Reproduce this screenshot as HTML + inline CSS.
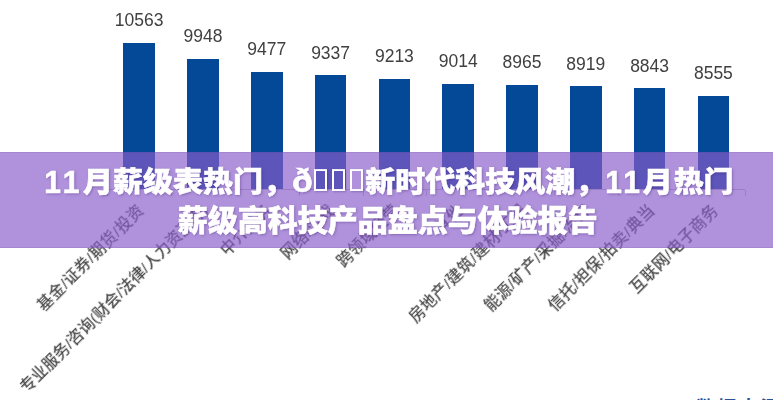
<!DOCTYPE html>
<html lang="zh-CN"><head><meta charset="utf-8"><title>11月薪级表热门</title>
<style>
html,body{margin:0;padding:0}
body{width:773px;height:400px;overflow:hidden;background:#fff;position:relative;font-family:"Liberation Sans","Noto Sans CJK SC",sans-serif}
.b{position:absolute;width:31.5px;background:rgb(4,72,152)}
.v{position:absolute;width:80px;text-align:center;font:17.5px/17px "Liberation Sans",sans-serif;color:#404040;filter:blur(0.3px)}
.ax{position:absolute;left:107.3px;width:638.0px;top:189.0px;height:1px;background:#bfbfbf}
.t{position:absolute;top:189.5px;width:1px;height:6px;background:#bfbfbf}
.l{position:absolute;top:201.5px;white-space:nowrap;font:500 15.5px/16px "Liberation Sans","Noto Sans CJK SC",sans-serif;letter-spacing:0.5px;color:#4a4a4a;filter:blur(0.6px);transform-origin:100% 0;transform:rotate(-45deg)}
.src{position:absolute;left:696px;top:397px;font:bold 19px/24px "Liberation Sans","Noto Sans CJK SC",sans-serif;color:#2a5298;letter-spacing:2.5px;white-space:nowrap}
.ov{position:absolute;left:0;top:152px;width:773px;height:96px;background:rgba(137,92,203,0.67);box-shadow:inset 0 1px 0 rgba(60,40,90,.1),inset 0 -1px 0 rgba(60,40,90,.1)}
.ti{position:absolute;left:0;top:152px;width:773px;height:96px;color:#fff;font-weight:900;font-size:30px;line-height:38px;font-family:"Liberation Sans","Noto Sans CJK SC",sans-serif;text-shadow:1px 1px 3px rgba(40,0,90,.35);-webkit-text-stroke:0.6px #fff;filter:blur(0.25px)}
.ti p{margin:0;white-space:nowrap;position:absolute;transform-origin:0 17.5px;transform:translateY(-0.5px) scaleY(0.95)}
.d{display:inline-block;transform:translateY(1.5px) scaleY(1.1);transform-origin:50% 97%}
.lt{font-size:34px;line-height:0;margin-left:-1px;margin-right:1px}
.bx{display:inline-block;box-sizing:border-box;width:13px;height:23px;border:2px solid #fff;margin:0 5px 0 0;vertical-align:3px;font-size:0;box-shadow:1px 1px 2px rgba(40,0,90,.25)}
</style></head><body>
<div class="b" style="left:123.4px;top:42.9px;height:146.6px"></div><div class="v" style="left:99.2px;top:12.2px">10563</div><div class="b" style="left:187.2px;top:59.1px;height:130.4px"></div><div class="v" style="left:163.0px;top:28.4px">9948</div><div class="b" style="left:251.0px;top:71.6px;height:117.9px"></div><div class="v" style="left:226.8px;top:40.9px">9477</div><div class="b" style="left:314.8px;top:75.3px;height:114.2px"></div><div class="v" style="left:290.6px;top:44.6px">9337</div><div class="b" style="left:378.6px;top:78.6px;height:110.9px"></div><div class="v" style="left:354.4px;top:47.9px">9213</div><div class="b" style="left:442.4px;top:83.8px;height:105.7px"></div><div class="v" style="left:418.2px;top:53.1px">9014</div><div class="b" style="left:506.2px;top:85.1px;height:104.4px"></div><div class="v" style="left:482.0px;top:54.4px">8965</div><div class="b" style="left:570.0px;top:86.3px;height:103.2px"></div><div class="v" style="left:545.8px;top:55.6px">8919</div><div class="b" style="left:633.8px;top:88.4px;height:101.1px"></div><div class="v" style="left:609.6px;top:57.7px">8843</div><div class="b" style="left:697.6px;top:96.0px;height:93.5px"></div><div class="v" style="left:673.4px;top:65.3px">8555</div>
<div class="ax"></div>
<div class="t" style="left:107.3px"></div><div class="t" style="left:171.1px"></div><div class="t" style="left:234.9px"></div><div class="t" style="left:298.7px"></div><div class="t" style="left:362.5px"></div><div class="t" style="left:426.3px"></div><div class="t" style="left:490.1px"></div><div class="t" style="left:553.9px"></div><div class="t" style="left:617.7px"></div><div class="t" style="left:681.5px"></div><div class="t" style="left:745.3px"></div>
<div class="l" style="right:637.3px">基金/证券/期货/投资</div><div class="l" style="right:573.5px;letter-spacing:0.1px">专业服务/咨询(财会/法律/人力资源等)</div><div class="l" style="right:509.7px">中介服务</div><div class="l" style="right:445.9px">网络/游戏</div><div class="l" style="right:382.1px">跨领域经营</div><div class="l" style="right:318.3px">其他</div><div class="l" style="right:254.5px">房地产/建筑/建材/工程</div><div class="l" style="right:190.7px">能源/矿产/采掘/冶炼</div><div class="l" style="right:126.9px">信托/担保/拍卖/典当</div><div class="l" style="right:63.1px">互联网/电子商务</div>
<div class="src">数据来源</div>
<div class="ov"></div>
<div class="ti"><p style="left:44.3px;top:12px"><span class="d" style="letter-spacing:3.5px">11</span>月薪级表热门，<span class="lt">ð</span><span class="bx"></span><span class="bx"></span><span class="bx" style="margin-right:2.5px"></span>新时代科技风潮，<span class="d" style="letter-spacing:2.8px">11</span><span style="letter-spacing:1px">月</span>热门</p><p style="left:177.8px;top:50px;transform:scaleY(0.975)">薪级高科技产品盘点与体验报告</p></div>
</body></html>
